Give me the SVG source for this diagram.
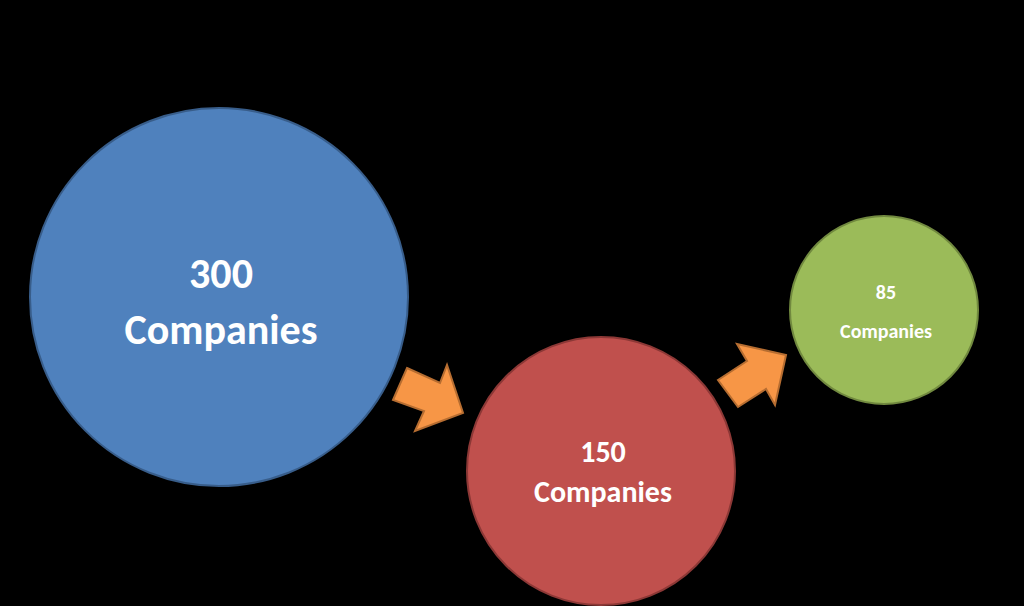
<svg xmlns="http://www.w3.org/2000/svg" width="1024" height="606" viewBox="0 0 1024 606">
<style>
.t{font-family:Calibri,"Liberation Sans",sans-serif;font-weight:bold;fill:#fff;text-anchor:middle}
.a{fill:#F79646;stroke:#B66D31;stroke-width:2;stroke-linejoin:miter}
</style>
<rect width="1024" height="606" fill="#000"/>
<g id="n300"><circle cx="219" cy="297" r="189" fill="#4F81BD" stroke="#385D8A" stroke-width="2"/>
<text class="t" x="221" y="288" font-size="42">300</text><text class="t" x="221" y="344" font-size="42">Companies</text></g>
<g id="n150"><circle cx="601" cy="471" r="134" fill="#C0504D" stroke="#8C3836" stroke-width="2"/>
<text class="t" x="603" y="462" font-size="30">150</text><text class="t" x="603" y="502" font-size="30">Companies</text></g>
<g id="n85"><circle cx="884" cy="310" r="94" fill="#9BBB59" stroke="#71893F" stroke-width="2"/>
<text class="t" x="886" y="299" font-size="20">85</text><text class="t" x="886" y="338" font-size="20">Companies</text></g>
<g id="connectors">
<polygon class="a" points="407,368 440,383 447,365 463,413 415,431 424,411 393,400"/>
<polygon class="a" points="718,380 747,361 737,344 786,355 775,405 766,389 738,407"/>
</g>
</svg>
